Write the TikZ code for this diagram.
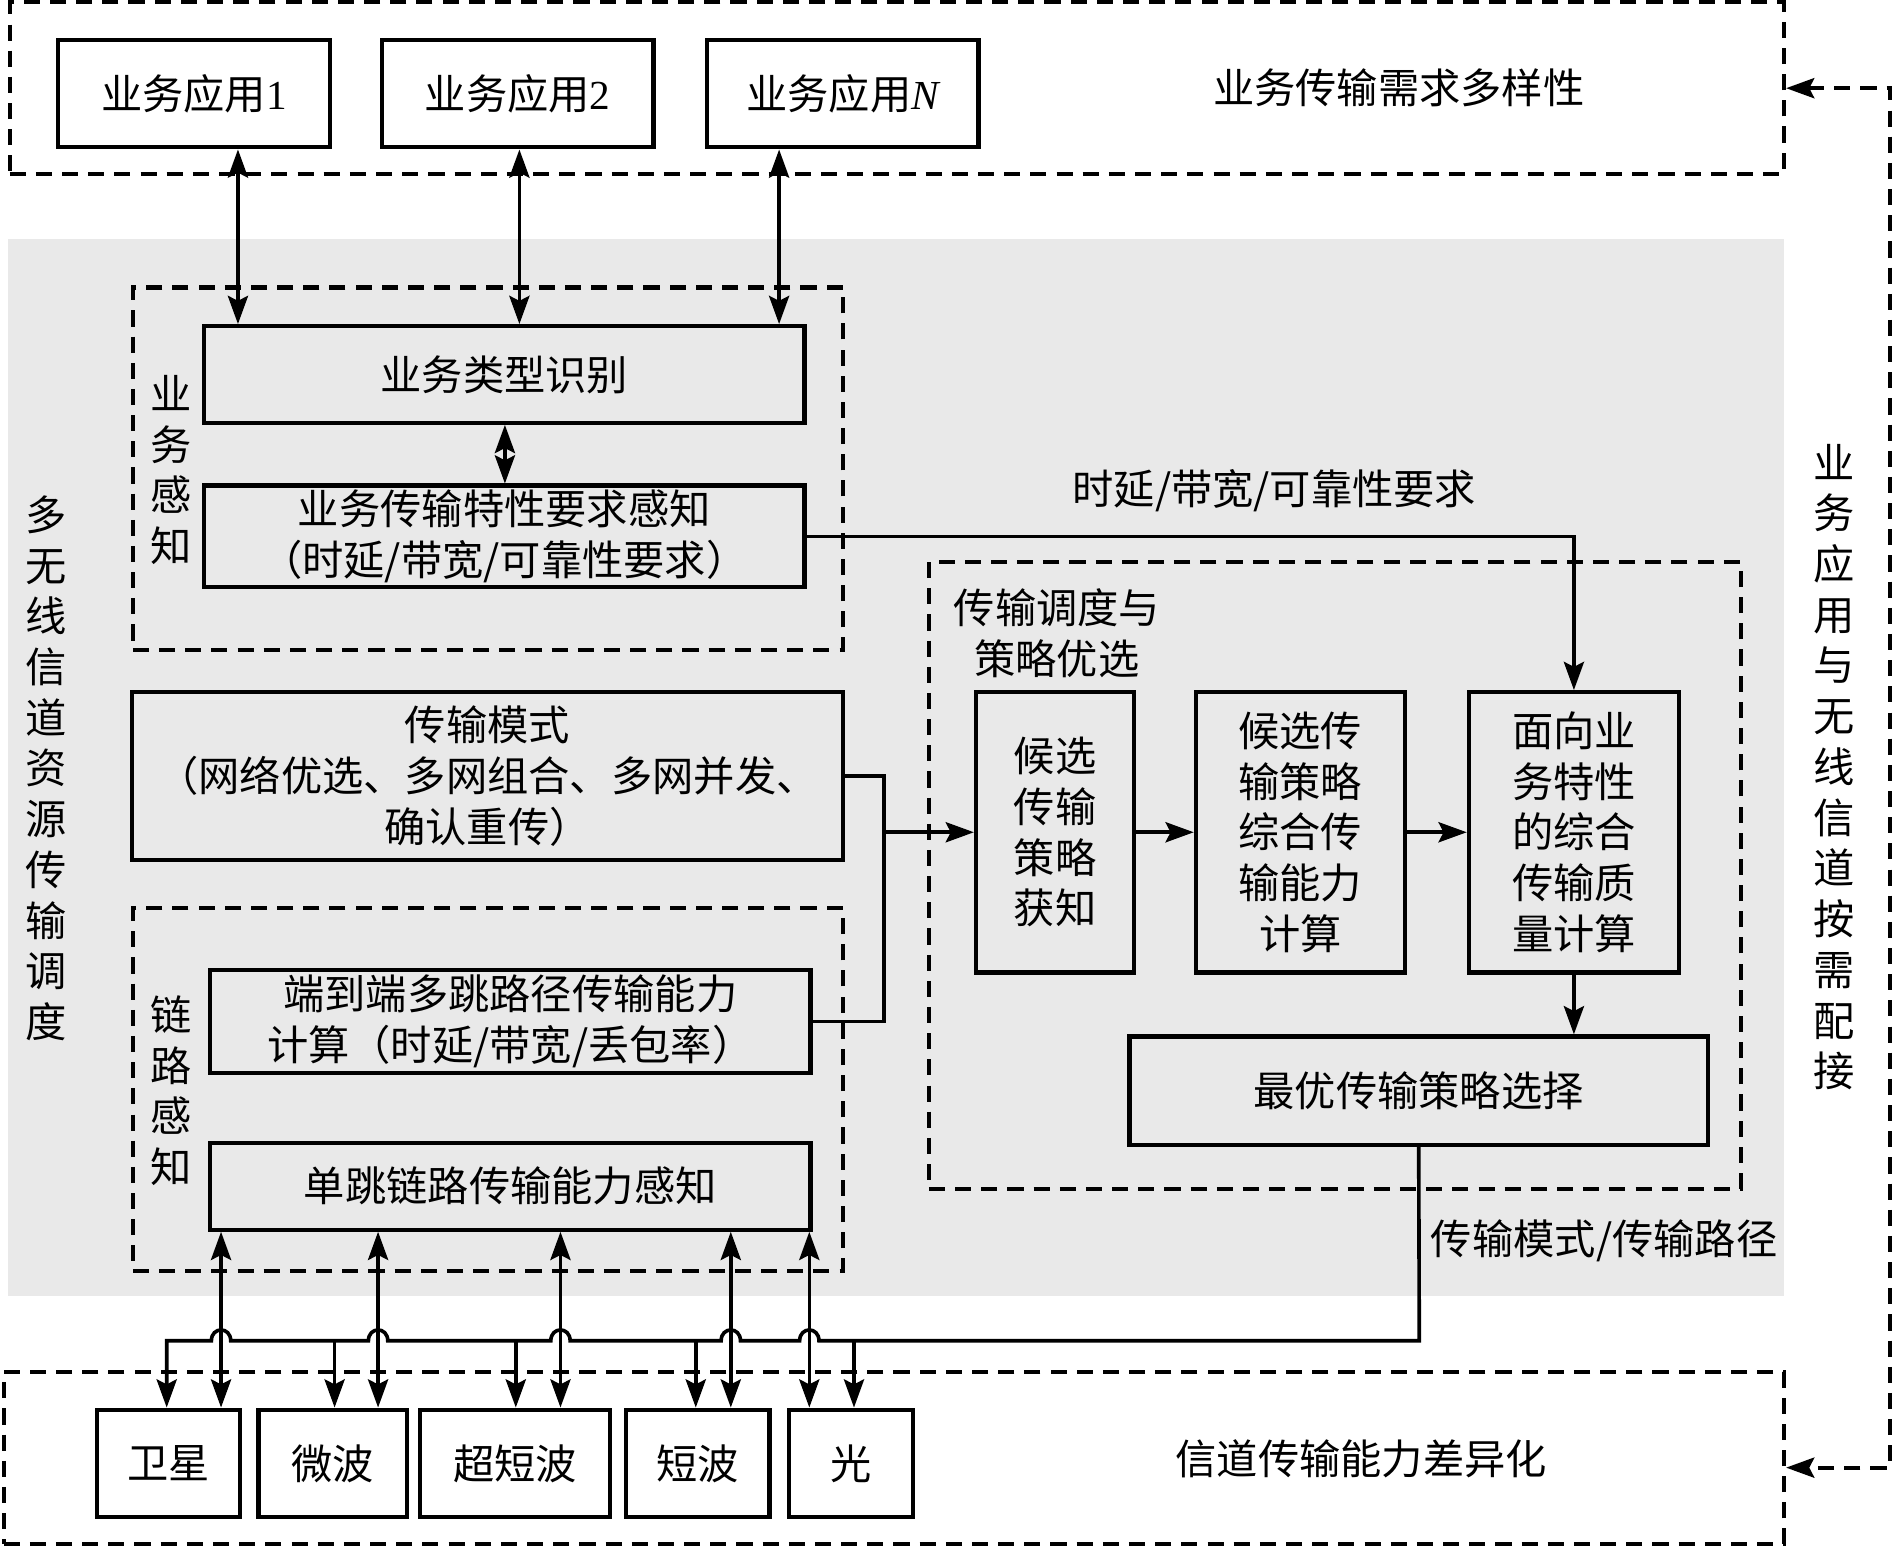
\documentclass[tikz,border=0pt]{standalone}
\usepackage{fontspec}
\setmainfont{Liberation Serif}
\newfontfamily\cjk{Noto Sans CJK SC}
\usetikzlibrary{arrows.meta,fit,calc}
\definecolor{bg}{RGB}{233,233,233}
\begin{document}
\begin{tikzpicture}[x=0.6pt,y=-0.6pt,
  every node/.style={font=\cjk\fontsize{20.5}{25.2}\selectfont, inner sep=0pt},
  box/.style={draw, line width=2.1pt, align=center},
  dbox/.style={draw, line width=2pt, dash pattern=on 8pt off 5pt},
  conn/.style={line width=1.8pt},
  dconn/.style={line width=1.9pt, dash pattern=on 8pt off 5pt},
  >={Stealth[length=14pt,width=10pt,inset=2.5pt]}]
\useasboundingbox (0,0) rectangle (1568,1281);
% background
\fill[bg] (7,198) rectangle (1477,1073);
% dashed frames
\node[dbox, fit={(8,2) (1477,144)}] (top) {};
\node[dbox, fit={(110,238) (698,538)}] (biz) {};
\node[dbox, fit={(110,752) (698,1052)}] (link) {};
\node[dbox, fit={(769,465) (1441,984)}] (sched) {};
\node[dbox, fit={(3,1136) (1477,1278)}] (bot) {};
% application boxes
\node[box, minimum width=135pt, minimum height=53.4pt] (a1) at (160.5,77.5) {业务应用{\rmfamily 1}};
\node[box, minimum width=135pt, minimum height=53.4pt] (a2) at (428.5,77.5) {业务应用{\rmfamily 2}};
\node[box, minimum width=135pt, minimum height=53.4pt] (an) at (697.5,77.5) {业务应用{\rmfamily\itshape N}};
\node (ltop) at (1158,73) {业务传输需求多样性};
% business perception
\node[box, minimum width=298.2pt, minimum height=48pt] (t1) at (417.5,310) {业务类型识别};
\node[box, minimum width=298.2pt, minimum height=50.4pt] (req) at (417.5,444) {业务传输特性要求感知\\（时延/带宽/可靠性要求）};
\node[align=center] (lbiz) at (142,389) {业\\务\\感\\知};
% mode
\node[box, minimum width=353.4pt, minimum height=83.4pt] (mode) at (403.5,642.5) {传输模式\\（网络优选、多网组合、多网并发、\\确认重传）};
% link perception
\node[box, minimum width=298.2pt, minimum height=51pt] (e2e) at (422.5,845.5) {端到端多跳路径传输能力\\计算（时延/带宽/丢包率）};
\node[box, minimum width=298.2pt, minimum height=43.2pt] (sh) at (422.5,982) {单跳链路传输能力感知};
\node[align=center] (llink) at (142,903) {链\\路\\感\\知};
% left / right labels
\node[align=center] (lleft) at (38,636) {多\\无\\线\\信\\道\\资\\源\\传\\输\\调\\度};
\node[align=center] (lright) at (1518,635) {业\\务\\应\\用\\与\\无\\线\\信\\道\\按\\需\\配\\接};
% scheduling
\node[align=center] (lsched) at (875,524) {传输调度与\\策略优选};
\node[box, minimum width=78.6pt, minimum height=139.2pt] (cand) at (873.5,689) {候选\\传输\\策略\\获知};
\node[box, minimum width=103.8pt, minimum height=139.2pt] (comp) at (1076.5,689) {候选传\\输策略\\综合传\\输能力\\计算};
\node[box, minimum width=104.4pt, minimum height=139.2pt] (q) at (1303,689) {面向业\\务特性\\的综合\\传输质\\量计算};
\node[box, minimum width=287.4pt, minimum height=54pt] (best) at (1174.5,903) {最优传输策略选择};
\node (lreq) at (1055,406) {时延/带宽/可靠性要求};
\node (lpath) at (1328,1027) {传输模式/传输路径};
% channels
\node[box, minimum width=71.4pt, minimum height=53.4pt] (sat) at (139.5,1211.5) {卫星};
\node[box, minimum width=73.8pt, minimum height=53.4pt] (mw) at (275.5,1211.5) {微波};
\node[box, minimum width=94.2pt, minimum height=53.4pt] (vhf) at (426.5,1211.5) {超短波};
\node[box, minimum width=71.4pt, minimum height=53.4pt] (hf) at (577.5,1211.5) {短波};
\node[box, minimum width=61.8pt, minimum height=53.4pt] (opt) at (704.5,1211.5) {光};
\node (lbot) at (1127,1208) {信道传输能力差异化};
% coordinates
\coordinate (c1) at (197,0);
\coordinate (c2) at (430,0);
\coordinate (c3) at (645,0);
\coordinate (cm) at (418,0);
\coordinate (jn) at (732,689);
\coordinate (rx) at (1565,0);
\coordinate (d1) at (183,0);
\coordinate (d2) at (313,0);
\coordinate (d3) at (464,0);
\coordinate (d4) at (605,0);
\coordinate (d5) at (670,0);
\coordinate (bus) at (1175,1110);
\coordinate (j1) at (138,1110);
\coordinate (j2) at (277,1110);
\coordinate (j3) at (427,1110);
\coordinate (j4) at (576,1110);
\coordinate (j5) at (707,1110);
% app arrows
\draw[conn,<->] (a1.south -| c1) -- (t1.north -| c1);
\draw[conn,<->] (a2.south -| c2) -- (t1.north -| c2);
\draw[conn,<->] (an.south -| c3) -- (t1.north -| c3);
\draw[conn,<->] (t1.south -| cm) -- (req.north -| cm);
% requirement line
\draw[conn,->] (req.east) -| (q.north);
% mode/e2e to candidate
\draw[conn] (mode.east) -| (jn);
\draw[conn] (e2e.east) -| (jn);
\draw[conn,->] (jn) -- (cand.west);
\draw[conn,->] (cand.east) -- (comp.west);
\draw[conn,->] (comp.east) -- (q.west);
\draw[conn,->] (q.south) -- (q.south |- best.north);
% double arrows channels <-> single hop
\draw[conn,<->] (sh.south -| d1) -- (sat.north -| d1);
\draw[conn,<->] (sh.south -| d2) -- (mw.north -| d2);
\draw[conn,<->] (sh.south -| d3) -- (vhf.north -| d3);
\draw[conn,<->] (sh.south -| d4) -- (hf.north -| d4);
\draw[conn,<->] (sh.south -| d5) -- (opt.north -| d5);
% bus with jumps
\draw[conn,->] (best.south) -- (bus)
  -- (678,1110) .. controls (678,1098) and (662,1098) .. (662,1110)
  -- (613,1110) .. controls (613,1098) and (597,1098) .. (597,1110)
  -- (472,1110) .. controls (472,1098) and (456,1098) .. (456,1110)
  -- (321,1110) .. controls (321,1098) and (305,1098) .. (305,1110)
  -- (191,1110) .. controls (191,1098) and (175,1098) .. (175,1110)
  -- (j1) -- (sat.north -| j1);
\draw[conn,->] (j2) -- (mw.north -| j2);
\draw[conn,->] (j3) -- (vhf.north -| j3);
\draw[conn,->] (j4) -- (hf.north -| j4);
\draw[conn,->] (j5) -- (opt.north -| j5);
% right dashed connector
\draw[dconn,<->] (top.east) -- (top.east -| rx) -- ([yshift=-4.8pt]bot.east -| rx) -- ([yshift=-4.8pt]bot.east);
\end{tikzpicture}
\end{document}
